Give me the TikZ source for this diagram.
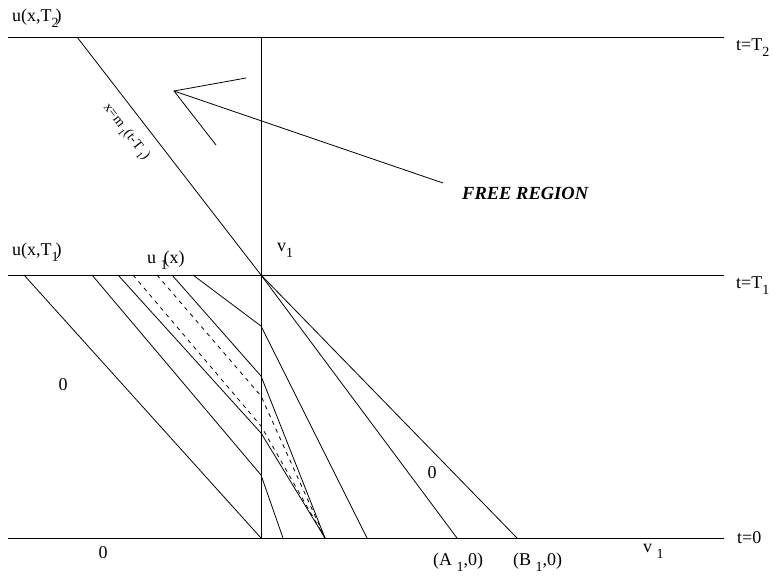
\documentclass[tikz,border=0pt]{standalone}
\usepackage{fontspec}
\setmainfont{Liberation Serif}
\newcommand\lsub[1]{\raisebox{-6pt}{\fontsize{14}{14}\selectfont #1}}
\newcommand\rsub[1]{\raisebox{-4pt}{\fontsize{10}{10}\selectfont #1}}
\begin{document}
\begin{tikzpicture}[x=1pt,y=-1pt,
  ln/.style={line width=0.8pt},
  dl/.style={line width=0.8pt,dash pattern=on 4pt off 4.5pt},
  lbl/.style={inner sep=0pt,font=\fontsize{18}{20}\selectfont},
  lblb/.style={lbl,anchor=base west}]
\useasboundingbox (0,0) rectangle (773,582);
% main frame coordinates
\coordinate (T2l) at (8,37);   \coordinate (T2r) at (724,37);
\coordinate (T1l) at (8,275);  \coordinate (T1r) at (724,275);
\coordinate (T0l) at (8,538);  \coordinate (T0r) at (724,538);
\coordinate (Vt) at (261,37);  \coordinate (V1) at (261,275); \coordinate (Vb) at (261,538);
\draw[ln] (T2l) -- (T2r);
\draw[ln] (T1l) -- (T1r);
\draw[ln] (T0l) -- (T0r);
\draw[ln] (Vt) -- (Vb);
% characteristic x = m1(t-T1)
\coordinate (M1) at (77,37);
\draw[ln] (M1) -- node[sloped,below=12pt,pos=0.35,inner sep=0pt,font=\fontsize{14}{16}\selectfont]{x=m\,\rsub{1}(t-T\,\rsub{1})} (V1);
% lines from t=T1 to t=0
\coordinate (a0) at (24,275);
\coordinate (a1) at (92,275);  \coordinate (b1) at (261,475); \coordinate (c1) at (283,538);
\coordinate (a2) at (118,275); \coordinate (b2) at (261,433); \coordinate (C) at (325,538);
\coordinate (a3) at (172,275); \coordinate (b3) at (261,376);
\coordinate (a4) at (193,275); \coordinate (b4) at (261,326); \coordinate (c4) at (367,538);
\coordinate (d1) at (133,275); \coordinate (e1) at (261,426);
\coordinate (d2) at (157,275); \coordinate (e2) at (261,396);
\coordinate (A1) at (457,538); \coordinate (B1) at (517,538);
\draw[ln] (a0) -- (Vb);
\draw[ln] (a1) -- (b1) -- (c1);
\draw[ln] (a2) -- (b2) -- (C);
\draw[ln] (a3) -- (b3) -- (C);
\draw[ln] (a4) -- (b4) -- (c4);
\draw[dl] (d1) -- (e1) -- (C);
\draw[dl] (d2) -- (e2) -- (C);
\draw[ln] (V1) -- (A1);
\draw[ln] (V1) -- (B1);
% free region arrow
\node[lbl,font=\fontsize{18.5}{20}\selectfont\bfseries\itshape,anchor=base west] (fr) at (462,199) {FREE REGION};
\coordinate (fs) at (443,183);
\coordinate (tip) at (174,91);
\coordinate (h1) at (246,78);
\coordinate (h2) at (216,145);
\draw[ln] (fs) -- (tip);
\draw[ln] (h1) -- (tip) -- (h2);
% labels
\node[lblb] (uT2) at (12,21) {u(x,T\lsub{2}\kern-3pt)};
\node[lblb] (uT1) at (12,255) {u(x,T\lsub{1}\kern-3pt)};
\node[lblb] (u1) at (147,263) {u \lsub{1}\kern-4pt(x)};
\node[lblb] (v1a) at (277,251) {v\lsub{1}};
\node[lblb] (tT2) at (736,50) {t=T\lsub{2}};
\node[lblb] (tT1) at (736,288) {t=T\lsub{1}};
\node[lblb] (t0) at (737,543) {t=0};
\node[lbl] (z1) at (63,385) {0};
\node[lbl] (z2) at (103,553) {0};
\node[lbl] (z3) at (432,473) {0};
\node[lblb] (Aa) at (433,565) {(A \lsub{1},0)};
\node[lblb] (Bb) at (513,565) {(B \lsub{1},0)};
\node[lblb] (v1b) at (643,552) {v \lsub{1}};
\end{tikzpicture}
\end{document}
